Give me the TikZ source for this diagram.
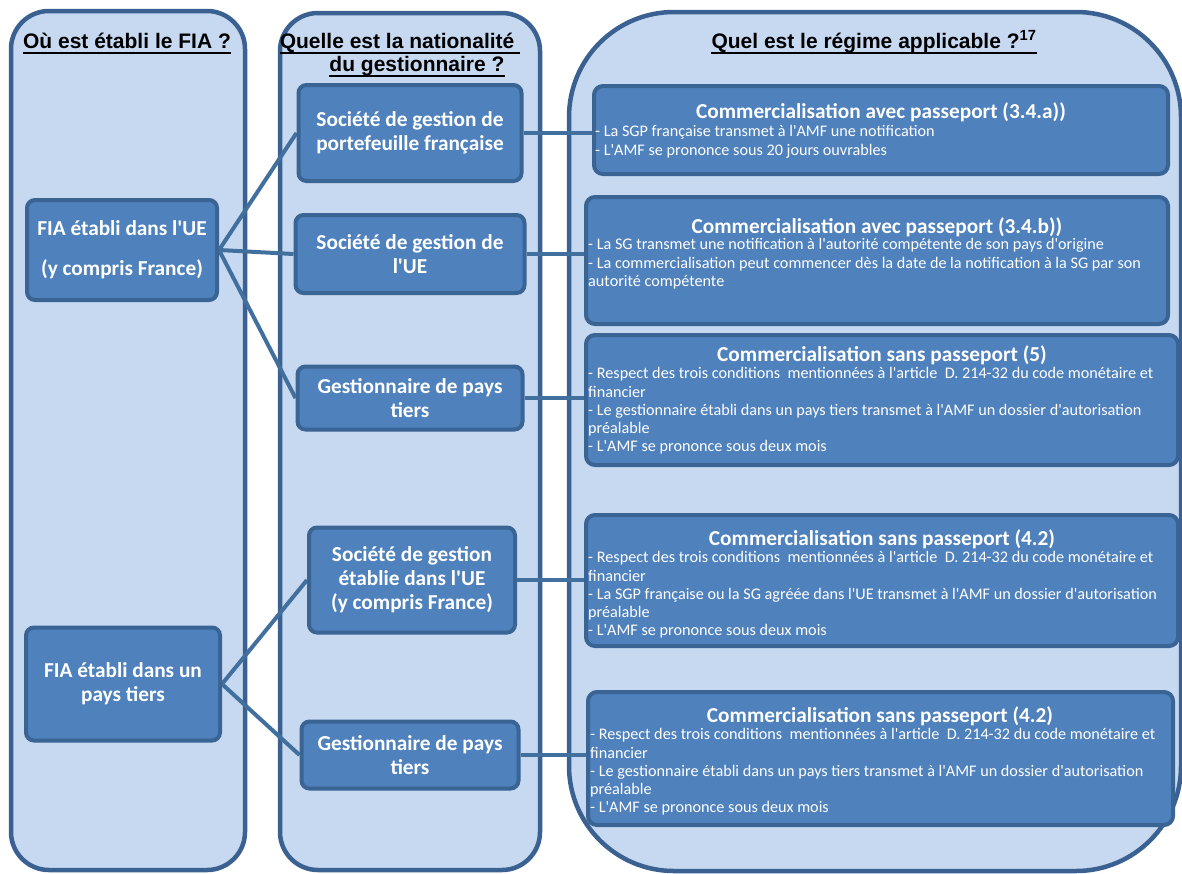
\documentclass[tikz,border=0pt]{standalone}
\usepackage{fontspec}
\setmainfont{Carlito}[Ligatures=TeXOff]
\newfontfamily\arialf{Liberation Sans}[Ligatures=TeXOff]
\definecolor{colfill}{HTML}{C6D9F0}
\definecolor{colborder}{HTML}{3A6191}
\definecolor{infill}{HTML}{4F81BD}
\definecolor{inborder}{HTML}{3A6494}
\definecolor{linecol}{HTML}{41709F}
\pgfdeclarelayer{bg}
\pgfsetlayers{bg,main}
\begin{document}
\begin{tikzpicture}[x=1pt,y=-1pt,
  col/.style={draw=colborder, line width=4.5pt, fill=colfill},
  inbox/.style={draw=inborder, line width=4pt, fill=infill, rounded corners=8pt, text=white,
    font=\bfseries\fontsize{21.3}{24}\selectfont, align=center, inner sep=0pt},
  regbox/.style={draw=inborder, line width=4pt, fill=infill, rounded corners=9pt, inner sep=0pt},
  conn/.style={draw=linecol, line width=4pt},
  head/.style={font=\arialf\bfseries\fontsize{21}{24}\selectfont, inner sep=0pt, anchor=base},
  ttl/.style={text=white, font=\bfseries\fontsize{21.3}{24}\selectfont, inner sep=0pt, anchor=base},
  body/.style={text=white, font=\fontsize{16.2}{18.3}\selectfont, align=left, inner sep=0pt, anchor=north west},
  uline/.style={draw=black, line width=2pt}
]
\useasboundingbox (0,0) rectangle (1182,873);
\clip (0,0) rectangle (1182,873);

% inner boxes column 1
\node[inbox, minimum width=190pt, minimum height=100pt, font=\bfseries\fontsize{21.3}{40}\selectfont] (fiaue) at (122,250) {FIA établi dans l'UE\\(y compris France)};
\node[inbox, minimum width=194pt, minimum height=113pt] (fiapt) at (123,684) {FIA établi dans un\\pays tiers};

% inner boxes column 2
\node[inbox, minimum width=223pt, minimum height=96pt] (sgp) at (410,133) {Société de gestion de\\portefeuille française};
\node[inbox, minimum width=229pt, minimum height=78pt] (sgue) at (410,254) {Société de gestion de\\l'UE};
\node[inbox, minimum width=225pt, minimum height=63pt] (gpt1) at (410,398) {Gestionnaire de pays\\tiers};
\node[inbox, minimum width=206pt, minimum height=105pt] (sgeu) at (412,580) {Société de gestion\\établie dans l'UE\\(y compris France)};
\node[inbox, minimum width=217pt, minimum height=67pt] (gpt2) at (410,755) {Gestionnaire de pays\\tiers};

% regime boxes column 3
\node[regbox, minimum width=574pt, minimum height=88pt] (bA) at (881,130) {};
\node[regbox, minimum width=582pt, minimum height=127pt] (bB) at (877,260.5) {};
\node[regbox, minimum width=592pt, minimum height=130pt] (bC) at (882,400) {};
\node[regbox, minimum width=592pt, minimum height=131pt] (bD) at (882,580.5) {};
\node[regbox, minimum width=585pt, minimum height=133pt] (bE) at (880.5,758.5) {};

\node[ttl] (tA) at (881,118) {Commercialisation avec passeport (3.4.a))};
\node[body] (xA) at (595,123) {\rule{0pt}{13.5pt}- La SGP française transmet à l'AMF une notification\\- L'AMF se prononce sous 20 jours ouvrables};

\node[ttl] (tB) at (877,233) {Commercialisation avec passeport (3.4.b))};
\node[body] (xB) at (588,236) {\rule{0pt}{13.5pt}- La SG transmet une notification à l'autorité compétente de son pays d'origine\\- La commercialisation peut commencer dès la date de la notification à la SG par son\\autorité compétente};

\node[ttl] (tC) at (882,361) {Commercialisation sans passeport (5)};
\node[body] (xC) at (588,365) {\rule{0pt}{13.5pt}- Respect des trois conditions\ \ mentionnées à l'article\ \ D. 214-32 du code monétaire et\\financier\\- Le gestionnaire établi dans un pays tiers transmet à l'AMF un dossier d'autorisation\\préalable\\- L'AMF se prononce sous deux mois};

\node[ttl] (tD) at (882,545) {Commercialisation sans passeport (4.2)};
\node[body] (xD) at (588,549) {\rule{0pt}{13.5pt}- Respect des trois conditions\ \ mentionnées à l'article\ \ D. 214-32 du code monétaire et\\financier\\- La SGP française ou la SG agréée dans l'UE transmet à l'AMF un dossier d'autorisation\\préalable\\- L'AMF se prononce sous deux mois};

\node[ttl] (tE) at (880,722) {Commercialisation sans passeport (4.2)};
\node[body] (xE) at (590,726) {\rule{0pt}{13.5pt}- Respect des trois conditions\ \ mentionnées à l'article\ \ D. 214-32 du code monétaire et\\financier\\- Le gestionnaire établi dans un pays tiers transmet à l'AMF un dossier d'autorisation\\préalable\\- L'AMF se prononce sous deux mois};

% headers
\node[head] (h1) at (127,48) {Où est établi le FIA ?};
\node[head] (h2a) at (400,48) {Quelle est la nationalité\hspace*{0.28em}};
\node[head] (h2b) at (417,71) {du gestionnaire ?};
\node[head] (h3) at (874,48) {Quel est le régime applicable ?\textsuperscript{17}};
\draw[uline] ([yshift=-5pt]h1.base west) -- ([yshift=-5pt]h1.base east);
\draw[uline] ([yshift=-5pt]h2a.base west) -- ([yshift=-5pt]h2a.base east);
\draw[uline] ([yshift=-5pt]h2b.base west) -- ([yshift=-5pt]h2b.base east);
\draw[uline] ([yshift=-5pt]h3.base west) -- ([yshift=-5pt]h3.base east);

\begin{pgfonlayer}{bg}
  \draw[col, rounded corners=38pt] (11,11) rectangle (245,870);
  \draw[col, rounded corners=38pt] (280,13) rectangle (540,870);
  \draw[col, rounded corners=105pt] (569,12) rectangle (1181,871);
  \draw[conn] (fiaue.east) -- (sgp.west);
  \draw[conn] (fiaue.east) -- (sgue.west);
  \draw[conn] (fiaue.east) -- (gpt1.west);
  \draw[conn] (fiapt.east) -- (sgeu.west);
  \draw[conn] (fiapt.east) -- (gpt2.west);
  \draw[conn] (sgp.east) -- (sgp.east -| bA.west);
  \draw[conn] (sgue.east) -- (sgue.east -| bB.west);
  \draw[conn] (gpt1.east) -- (gpt1.east -| bC.west);
  \draw[conn] (sgeu.east) -- (sgeu.east -| bD.west);
  \draw[conn] (gpt2.east) -- (gpt2.east -| bE.west);
\end{pgfonlayer}
\end{tikzpicture}
\end{document}
